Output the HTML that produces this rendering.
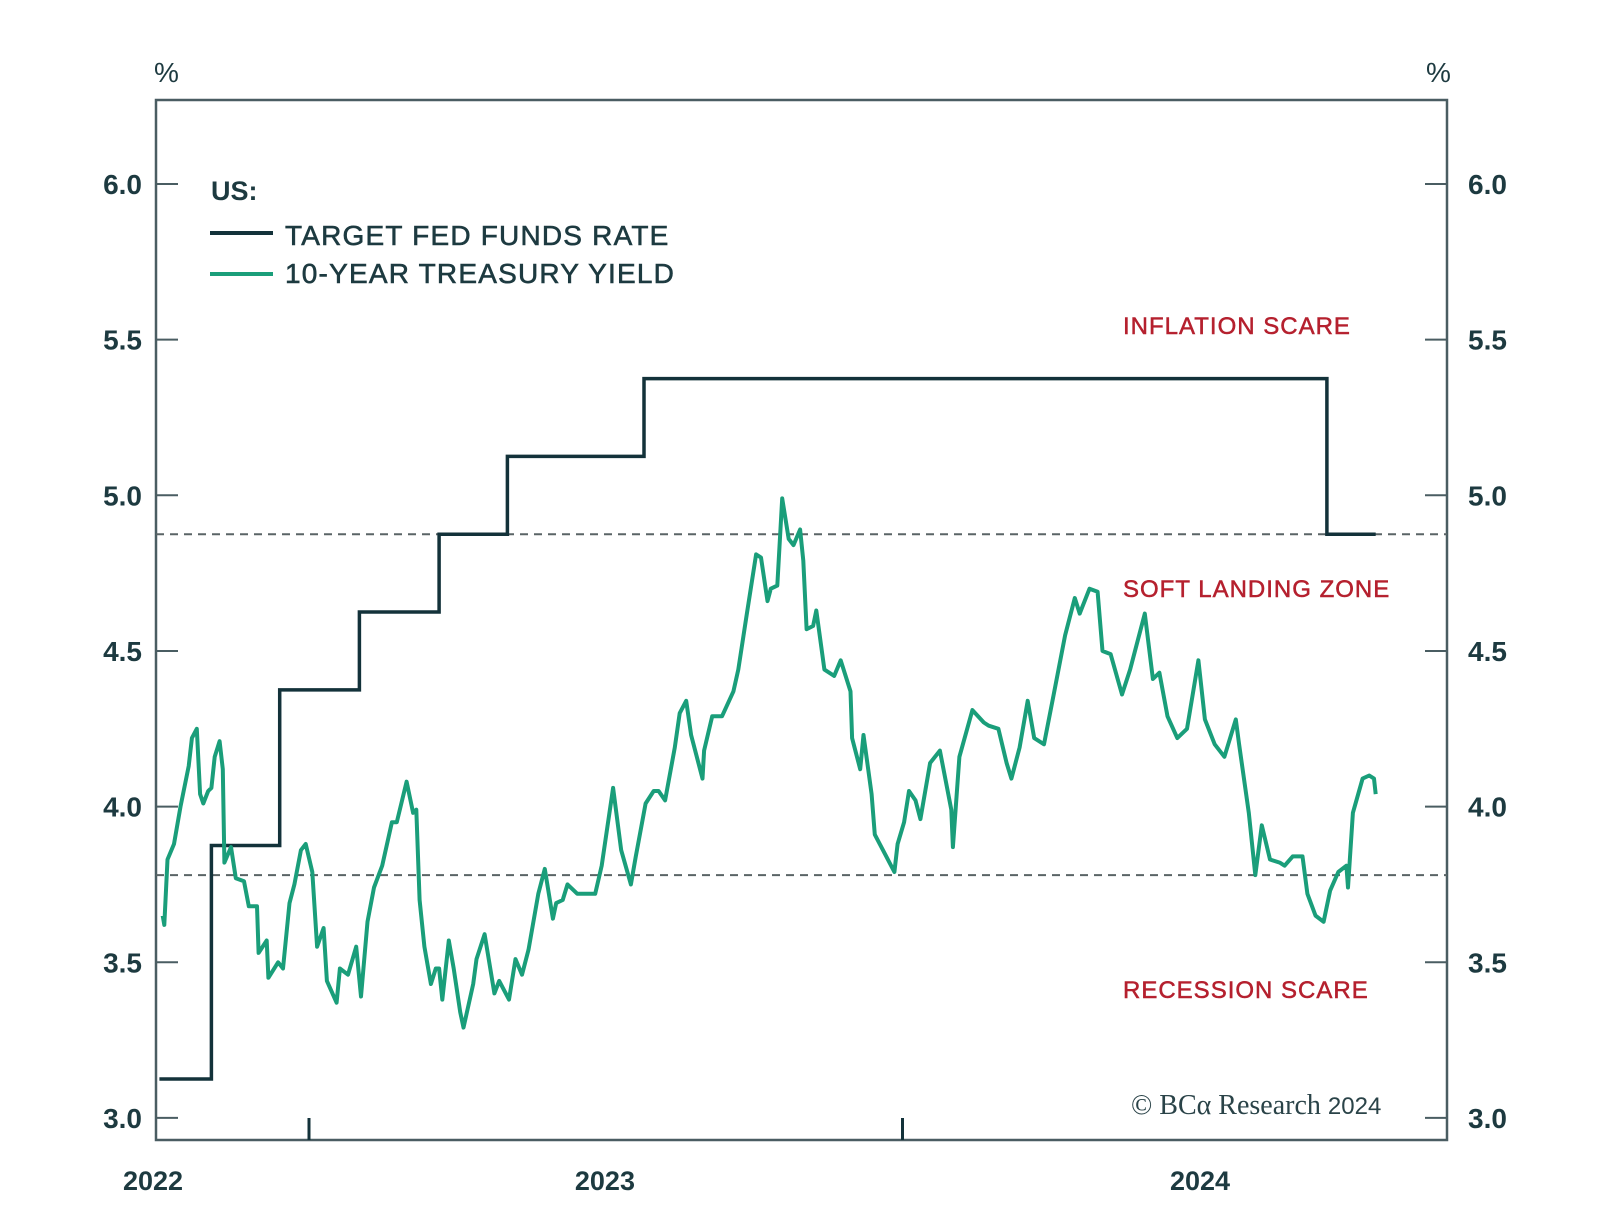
<!DOCTYPE html>
<html><head><meta charset="utf-8">
<style>
html,body{margin:0;padding:0;background:#fff;}
svg{display:block;font-family:"Liberation Sans",sans-serif;}
</style></head>
<body>
<svg id="chart" width="1600" height="1221" viewBox="0 0 1600 1221" xmlns="http://www.w3.org/2000/svg">
<rect x="0" y="0" width="1600" height="1221" fill="#fff"/>
<g id="axes"></g>
<g id="marks"></g>
<g>
<text x="211" y="200" font-size="27" font-weight="bold" fill="#1d3a40">US:</text>
<line x1="210" y1="233" x2="273" y2="233" stroke="#13323a" stroke-width="4"/>
<text x="285" y="245" font-size="28" fill="#1d3a40" stroke="#1d3a40" stroke-width="0.6" letter-spacing="1.2">TARGET FED FUNDS RATE</text>
<line x1="210" y1="274" x2="273" y2="274" stroke="#1a9e7a" stroke-width="4"/>
<text x="285" y="283" font-size="28" fill="#1d3a40" stroke="#1d3a40" stroke-width="0.6" letter-spacing="1.2">10-YEAR TREASURY YIELD</text>
</g>
<text x="1123" y="334" font-size="24" fill="#b5202e" stroke="#b5202e" stroke-width="0.5" letter-spacing="1">INFLATION SCARE</text>
<text x="1123" y="597" font-size="24" fill="#b5202e" stroke="#b5202e" stroke-width="0.5" letter-spacing="1">SOFT LANDING ZONE</text>
<text x="1123" y="998" font-size="24" fill="#b5202e" stroke="#b5202e" stroke-width="0.5" letter-spacing="1">RECESSION SCARE</text>
<text x="1131" y="1114" font-size="28" fill="#2a4348" font-family="Liberation Serif,serif">© BCα Research <tspan font-size="24" font-family="Liberation Sans,sans-serif">2024</tspan></text>
</svg>
<script>
const yTicks=[3.0,3.5,4.0,4.5,5.0,5.5,6.0];
const yTickLabels=["3.0","3.5","4.0","4.5","5.0","5.5","6.0"];
const yearLabels=["2022","2023","2024"];
const yearLabelDates=["2022-10-01","2023-07-02","2024-07-02"];
const yearTickDates=["2023-01-01","2024-01-01"];
const zoneBounds=[4.875,3.78];
const fedDates=["2022-10-01","2022-11-02","2022-12-14","2023-02-01","2023-03-22","2023-05-03","2023-07-26","2024-09-18","2024-10-18"];
const fedValues=[3.125,3.875,4.375,4.625,4.875,5.125,5.375,4.875,4.875];
const yieldDates=["2022-10-03","2022-10-04","2022-10-06","2022-10-10","2022-10-14","2022-10-19","2022-10-21","2022-10-24","2022-10-26","2022-10-28","2022-10-31","2022-11-02","2022-11-04","2022-11-07","2022-11-09","2022-11-10","2022-11-14","2022-11-17","2022-11-22","2022-11-25","2022-11-30","2022-12-01","2022-12-06","2022-12-07","2022-12-13","2022-12-16","2022-12-20","2022-12-23","2022-12-27","2022-12-30",
"2023-01-03","2023-01-06","2023-01-10","2023-01-12","2023-01-18","2023-01-20","2023-01-25","2023-01-30","2023-02-02","2023-02-06","2023-02-10","2023-02-15","2023-02-21","2023-02-24","2023-03-02","2023-03-06","2023-03-08","2023-03-10","2023-03-13","2023-03-17","2023-03-20","2023-03-22","2023-03-24","2023-03-28","2023-03-31","2023-04-04","2023-04-06","2023-04-12","2023-04-14","2023-04-19","2023-04-25","2023-04-28","2023-05-04","2023-05-08","2023-05-12","2023-05-16","2023-05-22","2023-05-26","2023-05-31","2023-06-02","2023-06-06","2023-06-09","2023-06-15","2023-06-21","2023-06-26","2023-06-30","2023-07-07","2023-07-12","2023-07-18","2023-07-21","2023-07-27","2023-08-01","2023-08-04","2023-08-08","2023-08-14","2023-08-17","2023-08-21","2023-08-24","2023-08-31","2023-09-01","2023-09-06","2023-09-12","2023-09-19","2023-09-22","2023-09-27","2023-10-03","2023-10-06","2023-10-10","2023-10-12","2023-10-16","2023-10-19","2023-10-23","2023-10-26","2023-10-30","2023-11-01","2023-11-03","2023-11-07","2023-11-09","2023-11-14","2023-11-20","2023-11-24","2023-11-30","2023-12-01","2023-12-06","2023-12-08","2023-12-13","2023-12-15","2023-12-20","2023-12-27","2023-12-29",
"2024-01-02","2024-01-05","2024-01-09","2024-01-12","2024-01-18","2024-01-24","2024-01-31","2024-02-01","2024-02-05","2024-02-13","2024-02-20","2024-02-23","2024-02-29","2024-03-05","2024-03-08","2024-03-13","2024-03-18","2024-03-22","2024-03-28","2024-04-03","2024-04-10","2024-04-16","2024-04-19","2024-04-25","2024-04-30","2024-05-03","2024-05-08","2024-05-15","2024-05-20","2024-05-29","2024-06-03","2024-06-07","2024-06-12","2024-06-18","2024-06-24","2024-07-01","2024-07-05","2024-07-11","2024-07-17","2024-07-24","2024-07-26","2024-08-01","2024-08-05","2024-08-09","2024-08-14","2024-08-20","2024-08-23","2024-08-28","2024-09-03","2024-09-06","2024-09-11","2024-09-16","2024-09-20","2024-09-25","2024-09-30","2024-10-01","2024-10-04","2024-10-10","2024-10-14","2024-10-17","2024-10-18"];
const yieldValues=[3.65,3.62,3.83,3.88,4.00,4.13,4.22,4.25,4.04,4.01,4.05,4.06,4.16,4.21,4.12,3.82,3.87,3.77,3.76,3.68,3.68,3.53,3.57,3.45,3.50,3.48,3.69,3.75,3.86,3.88,
3.79,3.55,3.61,3.44,3.37,3.48,3.46,3.55,3.39,3.63,3.74,3.81,3.95,3.95,4.08,3.98,3.99,3.70,3.55,3.43,3.48,3.48,3.38,3.57,3.48,3.34,3.29,3.43,3.51,3.59,3.40,3.44,3.38,3.51,3.46,3.54,3.72,3.80,3.64,3.69,3.70,3.75,3.72,3.72,3.72,3.81,4.06,3.86,3.75,3.84,4.01,4.05,4.05,4.02,4.19,4.30,4.34,4.23,4.09,4.18,4.29,4.29,4.37,4.44,4.61,4.81,4.80,4.66,4.70,4.71,4.99,4.86,4.84,4.89,4.79,4.57,4.58,4.63,4.44,4.42,4.47,4.37,4.22,4.12,4.23,4.04,3.91,3.86,3.79,3.88,
3.95,4.05,4.02,3.96,4.14,4.18,3.99,3.87,4.16,4.31,4.27,4.26,4.25,4.14,4.09,4.19,4.34,4.22,4.20,4.36,4.55,4.67,4.62,4.70,4.69,4.50,4.49,4.36,4.44,4.62,4.41,4.43,4.29,4.22,4.25,4.47,4.28,4.20,4.16,4.28,4.20,3.98,3.78,3.94,3.83,3.82,3.81,3.84,3.84,3.72,3.65,3.63,3.73,3.79,3.81,3.74,3.98,4.09,4.10,4.09,4.04];

const FL=156,FR=1447,FT=100,FB=1140;
const ORIGIN=Date.UTC(2023,0,1);
function dayOf(s){const p=s.split('-');return (Date.UTC(+p[0],+p[1]-1,+p[2])-ORIGIN)/86400000;}
function xs(s){return 309+dayOf(s)*1.626;}
function ys(v){return 184+(6-v)*311.3;}
const NS="http://www.w3.org/2000/svg";
function mk(tag,attrs,parent){const e=document.createElementNS(NS,tag);for(const k in attrs)e.setAttribute(k,attrs[k]);parent.appendChild(e);return e;}
const axes=document.getElementById('axes'),marks=document.getElementById('marks');

const frame=mk('rect',{x:FL,y:FT,width:FR-FL,height:FB-FT,fill:'none',stroke:'#4a5d62','stroke-width':2.5},axes);



yTicks.forEach((v,i)=>{
  const y=ys(v);
  const t1=mk('line',{x1:FL,y1:y,x2:FL+22,y2:y,stroke:'#4a5d62','stroke-width':2},axes);
  
  
  const t2=mk('line',{x1:FR-22,y1:y,x2:FR,y2:y,stroke:'#4a5d62','stroke-width':2},axes);
  
  
  const l1=mk('text',{x:142,y:y+10,'text-anchor':'end','font-size':28,'font-weight':'bold',fill:'#1d3a40'},axes);
  l1.textContent=yTickLabels[i];
  
  
  const l2=mk('text',{x:1468,y:y+10,'font-size':28,'font-weight':'bold',fill:'#1d3a40'},axes);
  l2.textContent=yTickLabels[i];
  
  
});
const p1=mk('text',{x:154,y:82,'font-size':28,fill:'#1d3a40'},axes);p1.textContent='%';


const p2=mk('text',{x:1426,y:82,'font-size':28,fill:'#1d3a40'},axes);p2.textContent='%';



yearTickDates.forEach(d=>{
  const x=xs(d);
  const t=mk('line',{x1:x,y1:FB,x2:x,y2:FB-22,stroke:'#13323a','stroke-width':3},axes);
  
  
});
yearLabels.forEach((lab,i)=>{
  const x=i===0?FL-33:xs(yearLabelDates[i]);
  const t=mk('text',{x:x,y:1190,'text-anchor':i===0?'start':'middle','font-size':27,'font-weight':'bold',fill:'#1d3a40'},axes);
  t.textContent=lab;
  
  
});

zoneBounds.forEach(v=>{
  const l=mk('line',{x1:FL,y1:ys(v),x2:FR,y2:ys(v),stroke:'#5a6466','stroke-width':2,'stroke-dasharray':'8,6'},marks);
  
  
});

let fd='';
for(let i=0;i<fedDates.length;i++){
  const x=xs(fedDates[i]);
  if(i===0) fd+='M'+x.toFixed(1)+','+ys(fedValues[0]).toFixed(1);
  else{ fd+=' L'+x.toFixed(1)+','+ys(fedValues[i-1]).toFixed(1); if(i<fedDates.length-1||fedValues[i]!==fedValues[i-1]) fd+=' L'+x.toFixed(1)+','+ys(fedValues[i]).toFixed(1);}
}
const fed=mk('path',{d:fd,fill:'none',stroke:'#13323a','stroke-width':3.5,'stroke-linejoin':'miter'},marks);



let yd='';
yieldDates.forEach((d,i)=>{yd+=(i?' L':'M')+xs(d).toFixed(1)+','+ys(yieldValues[i]).toFixed(1);});
const yl=mk('path',{d:yd,fill:'none',stroke:'#1a9e7a','stroke-width':4,'stroke-linejoin':'round'},marks);


</script>
</body></html>
